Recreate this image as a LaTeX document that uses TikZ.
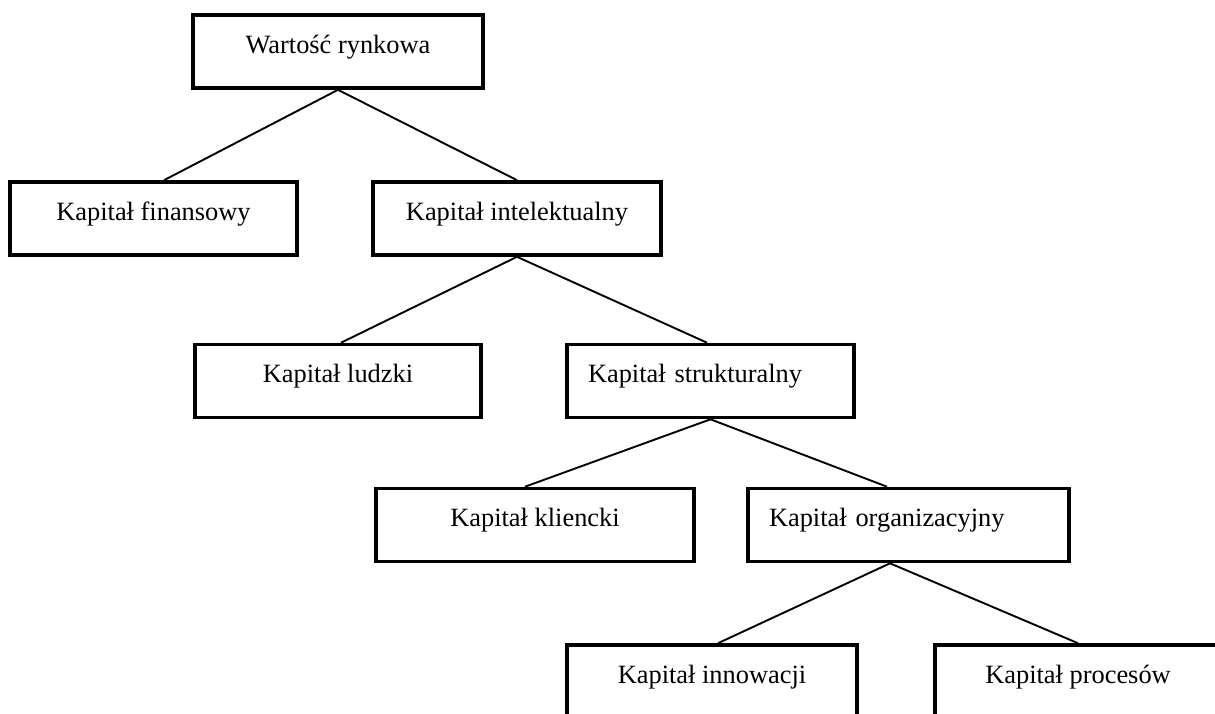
\documentclass[tikz,border=0pt]{standalone}
\usepackage{fontspec}
\setmainfont{Liberation Serif}
\usepackage{tikz}

\begin{document}
\begin{tikzpicture}[x=0.5pt, y=-0.5pt,
		kbox/.style={draw, rectangle, line width=1.8pt, minimum height=36.5pt, inner sep=0pt,
			text height=9pt, text depth=7.5pt, font=\fontsize{13.2pt}{16pt}\selectfont},
		kleft/.style={kbox, align=left, inner xsep=10.5pt},
		kline/.style={line width=0.95pt}]
				\clip (0,0) rectangle (1215,713);
				\node (wartosc) [kbox, minimum width=145pt] at (338,51.5) {Wartość rynkowa};
				\node (finansowy) [kbox, minimum width=143.5pt] at (153.5,218.5) {Kapitał finansowy};
				\node (intelektualny) [kbox, minimum width=144pt] at (517,218.5) {Kapitał intelektualny};
				\node (ludzki) [kbox, minimum width=143pt] at (338,381) {Kapitał ludzki};
				\node (strukturalny) [kleft, text width=122.5pt] at (710.5,381) {Kapitał strukturalny};
				\node (kliencki) [kbox, minimum width=159pt] at (535,525) {Kapitał kliencki};
				\node (organizacyjny) [kleft, text width=139.5pt] at (908.5,525) {Kapitał organizacyjny};
				\node (innowacji) [kbox, minimum width=145pt] at (712,681.5) {Kapitał innowacji};
				\node (procesow) [kbox, minimum width=143pt] at (1078,681.5) {Kapitał procesów};
				
				
				% Lines
				\draw[kline] (wartosc.south) -- ([xshift=5.25pt]finansowy.north);
				\draw[kline] (wartosc.south) -- (intelektualny.north);
				\draw[kline] (intelektualny.south) -- ([xshift=1.5pt]ludzki.north);
				\draw[kline] (intelektualny.south) -- ([xshift=-1.75pt]strukturalny.north);
				\draw[kline] (strukturalny.south) -- ([xshift=-5pt]kliencki.north);
				\draw[kline] (strukturalny.south) -- ([xshift=-10.75pt]organizacyjny.north);
				\draw[kline] ([xshift=-9.25pt]organizacyjny.south) -- ([xshift=3pt]innowacji.north);
				\draw[kline] ([xshift=-9.25pt]organizacyjny.south) -- (procesow.north);
				
			\end{tikzpicture}
\end{document}
